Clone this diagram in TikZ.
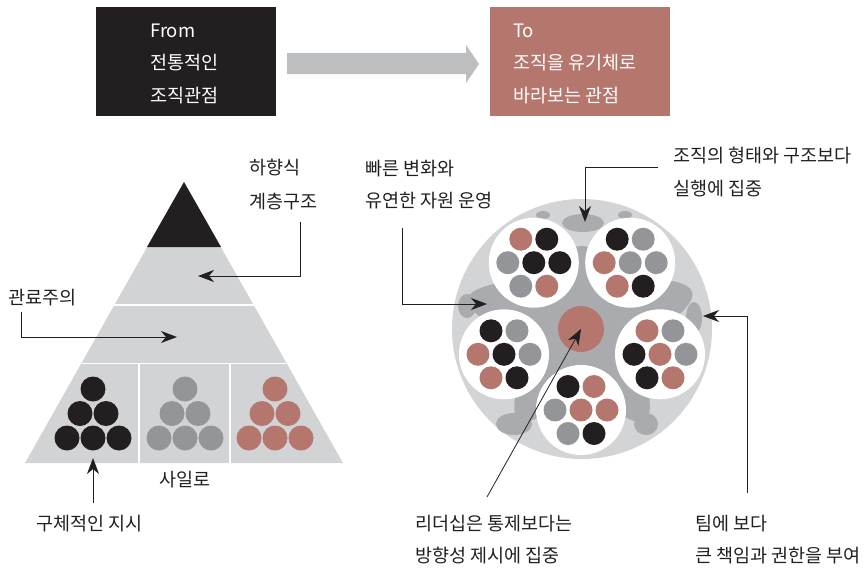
\documentclass[tikz,border=0pt]{standalone}
\usepackage{fontspec}
\setmainfont{Noto Sans CJK KR}
\usetikzlibrary{arrows.meta}
\definecolor{ink}{HTML}{231F20}
\definecolor{rose}{HTML}{B5766E}
\definecolor{dotgray}{HTML}{939598}
\definecolor{pyr}{HTML}{D1D3D4}
\definecolor{arrowgray}{HTML}{BCBEC0}
\definecolor{ringlight}{HTML}{D3D4D6}
\definecolor{ringdark}{HTML}{A9ABAE}
\colorlet{K}{ink}
\colorlet{G}{dotgray}
\colorlet{P}{rose}
\tikzset{
  lbl/.style={anchor=base west, inner sep=0pt, font=\fontsize{18.5}{20}\selectfont, text=ink},
  boxtxt/.style={anchor=base west, inner sep=0pt, font=\fontsize{18.5}{20}\selectfont, text=white},
  conn/.style={draw=ink, line width=1pt, -{Stealth[length=16pt,width=12pt,inset=5pt]}},
  thinconn/.style={draw=ink, line width=0.8pt, -{Stealth[length=16pt,width=12pt,inset=5pt]}},
  sep/.style={draw=white, line width=1.5pt},
}
\newcommand\mydots[9]{%
  \begin{scope}[shift={(#1,#2)}]
    \fill[white] (0,0) circle (45pt);
    \fill[#3] (-13,-23.5) circle (11.5pt);
    \fill[#4] (13,-23.5) circle (11.5pt);
    \fill[#5] (-26,0) circle (11.5pt);
    \fill[#6] (0,0) circle (11.5pt);
    \fill[#7] (26,0) circle (11.5pt);
    \fill[#8] (-13,23.5) circle (11.5pt);
    \fill[#9] (13,23.5) circle (11.5pt);
  \end{scope}}
\newcommand\pyrdots[2]{%
  \fill[#2] (#1,389) circle (12.5pt);
  \fill[#2] (#1-13,413.5) circle (12.5pt);
  \fill[#2] (#1+13,413.5) circle (12.5pt);
  \fill[#2] (#1-26,438) circle (12.5pt);
  \fill[#2] (#1,438) circle (12.5pt);
  \fill[#2] (#1+26,438) circle (12.5pt);}
\begin{document}
\begin{tikzpicture}[x=1pt,y=-1pt]
\useasboundingbox (0,0) rectangle (868,568);

% ---- top boxes ----
\fill[ink] (96,7) rectangle (276,116);
\fill[rose] (490,7) rectangle (670,116);
\node[boxtxt] (from1) at (150,37) {From};
\node[boxtxt] (from2) at (150,69) {전통적인};
\node[boxtxt] (from3) at (150,102) {조직관점};
\node[boxtxt] (to1) at (513,37) {To};
\node[boxtxt] (to2) at (513,69) {조직을 유기체로};
\node[boxtxt] (to3) at (513,102) {바라보는 관점};
\fill[arrowgray] (287,53) -- (466,53) -- (466,45) -- (479,64) -- (466,83) -- (466,74) -- (287,74) -- cycle;

% ---- pyramid ----
\fill[pyr] (184,182) -- (343,463) -- (25,463) -- cycle;
\fill[ink] (184,182) -- (221,247) -- (147,247) -- cycle;
\draw[sep] (114,305) -- (254,305);
\draw[sep] (82,363.5) -- (286,363.5);
\draw[sep] (139,363.5) -- (139,463);
\draw[sep] (230,363.5) -- (230,463);
\pyrdots{93}{K}
\pyrdots{185}{G}
\pyrdots{275}{P}

\node[lbl] (hier1) at (249,174) {하향식};
\node[lbl] (hier2) at (249,208) {계층구조};
\node[lbl] (bureau) at (8,304) {관료주의};
\node[lbl] (instr) at (36,530) {구체적인 지시};
\node[lbl, anchor=base] (silo) at (185,486) {사일로};

\coordinate (c1) at (300,222);
\coordinate (t1) at (198,276);
\draw[conn] (c1) |- (t1);
\coordinate (c2) at (21,312);
\coordinate (t2) at (177,337);
\draw[conn] (c2) |- (t2);
\coordinate (c3) at (93,503);
\coordinate (t3) at (93,458);
\draw[conn] (c3) -- (t3);

% ---- organism circle ----
\fill[ringlight] (582,329) circle (130pt);
\fill[ringdark] plot[smooth cycle, tension=0.7] coordinates {
  (582,246) (623,272) (692,292) (649,351) (645,420) (582,399)
  (519,420) (515,351) (468,298) (541,272)};
\fill[ringdark] (583,223) ellipse [x radius=21pt, y radius=9pt];
\fill[ringdark] (543,215) ellipse [x radius=7pt, y radius=4pt];
\fill[ringdark] (625,215) ellipse [x radius=7pt, y radius=4pt];
\fill[ringdark] (694,318) ellipse [x radius=8pt, y radius=16pt];
\fill[ringdark] (514,424) ellipse [x radius=18pt, y radius=11pt];
\fill[ringdark] (646,424) ellipse [x radius=12pt, y radius=11pt];
\fill[ringdark] (467,306) ellipse [x radius=9pt, y radius=12pt];

\mydots{533.8}{262.7}{P}{K}{G}{K}{K}{G}{P}
\mydots{630.2}{262.7}{K}{G}{P}{G}{G}{P}{K}
\mydots{504}{354.3}{K}{G}{P}{K}{G}{P}{K}
\mydots{660}{354.3}{P}{G}{K}{P}{G}{K}{P}
\mydots{581}{410}{K}{P}{G}{P}{P}{G}{K}
\node[circle, fill=rose, minimum size=46pt, inner sep=0pt] (core) at (581,329) {};

\node[lbl] (fast1) at (365,175) {빠른 변화와};
\node[lbl] (fast2) at (365,207) {유연한 자원 운영};
\node[lbl] (form1) at (673,162) {조직의 형태와 구조보다};
\node[lbl] (form2) at (673,195) {실행에 집중};
\node[lbl] (lead1) at (415,530) {리더십은 통제보다는};
\node[lbl] (lead2) at (415,562) {방향성 제시에 집중};
\node[lbl] (team1) at (695,530) {팀에 보다};
\node[lbl] (team2) at (695,562) {큰 책임과 권한을 부여};

\coordinate (c4) at (658,167);
\coordinate (t4) at (585,222);
\draw[conn] (c4) -| (t4);
\coordinate (c5) at (402,228);
\coordinate (t5) at (487,304);
\draw[conn] (c5) |- (t5);
\coordinate (c6) at (487,497);
\draw[thinconn] (c6) -- (core.center);
\coordinate (c7) at (747,493);
\coordinate (t7) at (703,316);
\draw[conn] (c7) |- (t7);
\end{tikzpicture}
\end{document}
